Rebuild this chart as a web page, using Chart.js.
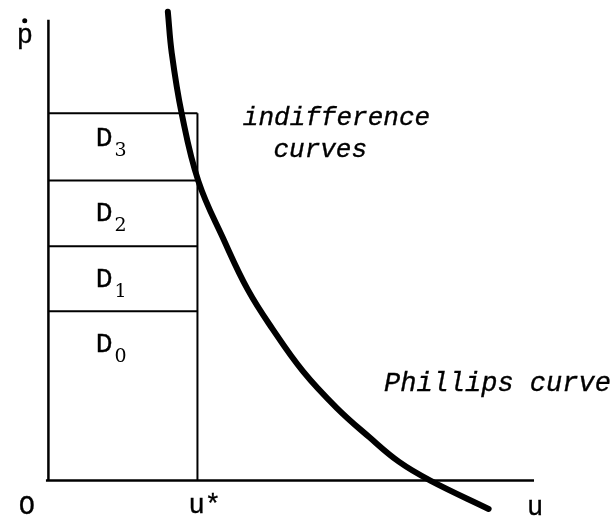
<!DOCTYPE html>
<html>
<head>
<meta charset="utf-8">
<script src="https://cdn.jsdelivr.net/npm/chart.js@4/dist/chart.umd.min.js"></script>
<style>
  html, body { margin: 0; padding: 0; background: #fff; }
  #c { display: block; }
</style>
</head>
<body>
<canvas id="c" width="615" height="522"></canvas>
<script>
// ---- data (abstract units: u horizontal, p-dot vertical) ----
const uStar = 3.02;
const dLevels = [3.58, 4.96, 6.35, 7.77];          // upper edges of D0..D3 regions
const dNames = ['D', 'D', 'D', 'D'];
const dSubs = ['0', '1', '2', '3'];
const dLabelY = [2.73, 4.10, 5.50, 7.08];           // label baselines
const axisTopP = 9.75;
const axisEndU = 9.84;
const phillipsU = [2.42, 2.50, 2.70, 3.04, 3.56, 4.04, 4.54, 5.16, 5.84, 6.50, 7.10, 7.74, 8.92];
const phillipsP = [9.92, 9.04, 7.77, 6.33, 5.08, 4.04, 3.21, 2.31, 1.54, 0.92, 0.40, 0.00, -0.60];
const texts = [
  // [text, u, p, style]
  ['p', -0.64, 9.25, 'up'],
  ['O', -0.60, -0.71, 'up'],
  ['u*', 2.84, -0.69, 'up'],
  ['u', 9.70, -0.73, 'up'],
  ['indifference', 3.94, 7.52, 'it'],
  ['curves', 4.56, 6.85, 'it'],
  ['Phillips curve', 6.80, 1.90, 'it2']
];
const dotOverP = [{ x: -0.48, y: 9.73 }];

// ---- build datasets ----
const seg = (pts, w) => ({ data: pts, showLine: true, borderColor: '#000', borderWidth: w, pointRadius: 0 });
const datasets = [];
datasets.push(seg([{ x: 0, y: 0 }, { x: 0, y: axisTopP }], 2.5));
datasets.push(seg([{ x: -0.05, y: 0 }, { x: axisEndU, y: 0 }], 2.5));
dLevels.forEach(l => datasets.push(seg([{ x: 0, y: l }, { x: uStar, y: l }], 2)));
datasets.push(seg([{ x: uStar, y: 0 }, { x: uStar, y: dLevels[dLevels.length - 1] }], 2));
const curve = phillipsU.map((u, i) => ({ x: u, y: phillipsP[i] }));
datasets.push(Object.assign(seg(curve, 6), { tension: 0.4, borderCapStyle: 'round', borderJoinStyle: 'round' }));
datasets.push({ data: dotOverP, pointRadius: 2.5, pointBackgroundColor: '#000', pointBorderWidth: 0, showLine: false });

const labelPlugin = {
  id: 'labels',
  afterDatasetsDraw(chart) {
    const { ctx, scales: { x, y } } = chart;
    ctx.save();
    ctx.fillStyle = '#000';
    ctx.strokeStyle = '#000';
    ctx.lineWidth = 0.35;
    ctx.textBaseline = 'alphabetic';
    ctx.textAlign = 'left';
    const fonts = {
      up: '27px "Liberation Mono"',
      it: 'italic 26px "Liberation Mono"',
      it2: 'italic 27px "Liberation Mono"'
    };
    const draw = (t, px, py) => { ctx.fillText(t, px, py); ctx.strokeText(t, px, py); };
    texts.forEach(([t, u, p, s]) => {
      ctx.font = fonts[s];
      draw(t, x.getPixelForValue(u), y.getPixelForValue(p));
    });
    dNames.forEach((n, i) => {
      const px = x.getPixelForValue(0.96);
      const py = y.getPixelForValue(dLabelY[i]);
      ctx.font = '28px "Liberation Mono"';
      draw(n, px, py);
      ctx.font = '19px "DejaVu Serif"';
      ctx.fillText(dSubs[i], x.getPixelForValue(1.34), py + 10);
    });
    ctx.restore();
  }
};

new Chart(document.getElementById('c'), {
  type: 'scatter',
  data: { datasets },
  options: {
    responsive: false,
    animation: false,
    layout: { padding: 0 },
    plugins: { legend: { display: false }, tooltip: { enabled: false } },
    scales: {
      x: { type: 'linear', min: -0.9, max: 11.4, display: false },
      y: { type: 'linear', min: -0.7917, max: 10.0833, display: false }
    }
  },
  plugins: [labelPlugin]
});
</script>
</body>
</html>
